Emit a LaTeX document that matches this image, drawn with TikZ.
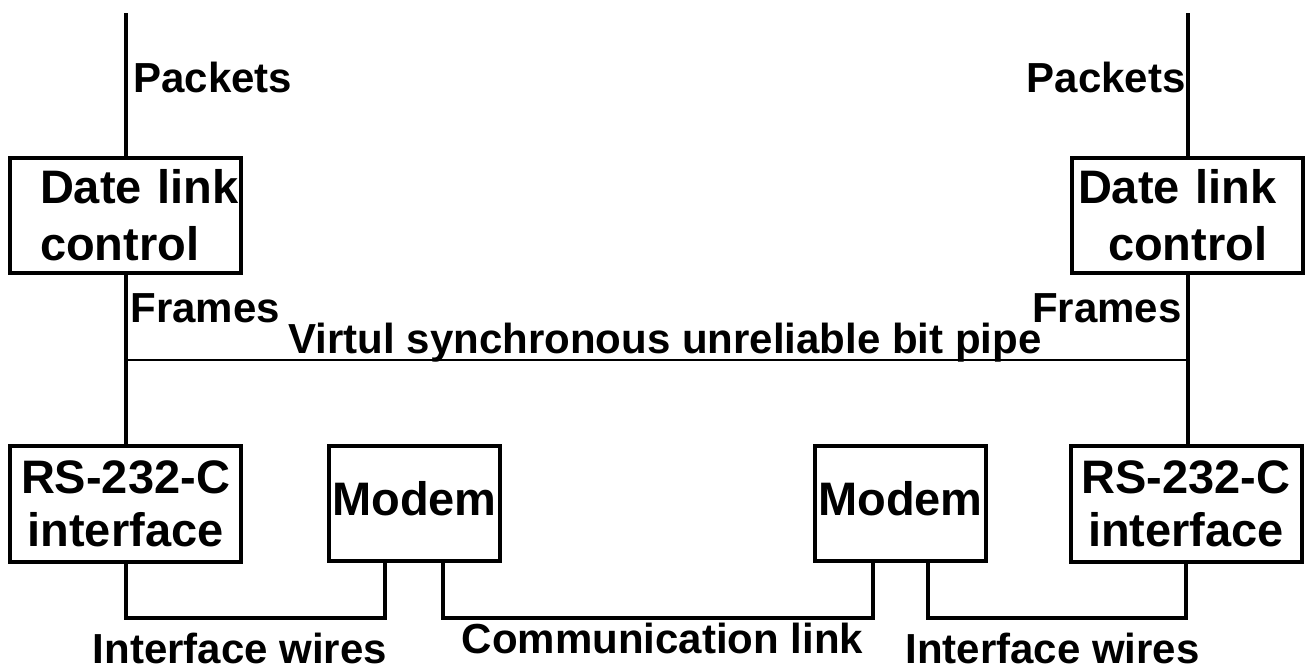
\documentclass[tikz,border=0pt]{standalone}
\usepackage{fontspec}
\setmainfont{Liberation Sans}
\begin{document}
\begin{tikzpicture}[x=0.5pt,y=-0.5pt,
  box/.style={draw,line width=2pt,inner sep=0pt,minimum width=115.5pt,minimum height=57.5pt,
    font=\fontsize{23.5pt}{28.5pt}\selectfont\bfseries},
  lab/.style={inner sep=0pt,font=\fontsize{21pt}{25pt}\selectfont\bfseries},
  wire/.style={line width=2pt}]
\useasboundingbox (0,0) rectangle (1309,669);
\node[box,text width=85.5pt,inner xsep=15pt,align=left] (dlcL) at (125.5,215.5) {Date~link\\control};
\node[box,text width=109.5pt,inner xsep=3pt,align=left] (dlcR) at (1187.5,215.5) {Date~link\\\hspace*{15pt}control};
\node[box,minimum height=58pt,align=center,font=\fontsize{23.5pt}{26.5pt}\selectfont\bfseries] (rsL) at (125.5,504) {RS-232-C\\interface};
\node[box,minimum height=58pt,align=center,font=\fontsize{23.5pt}{26.5pt}\selectfont\bfseries] (rsR) at (1186,504) {RS-232-C\\interface};
\node[box,minimum width=85.5pt,text depth=5pt] (mdL) at (414.5,503.5) {Modem};
\node[box,minimum width=85.5pt,text depth=5pt] (mdR) at (900.5,503.5) {Modem};
\coordinate (top) at (0,13);
\coordinate (pipe) at (0,360);
\coordinate (bot) at (0,618);
\coordinate (mdLa) at ([xshift=-14.75pt]mdL.south);
\coordinate (mdLb) at ([xshift=14.25pt]mdL.south);
\coordinate (mdRa) at ([xshift=-13.75pt]mdR.south);
\coordinate (mdRb) at ([xshift=13.75pt]mdR.south);
\draw[wire] (dlcL.north) -- (dlcL.north |- top);
\draw[wire] (dlcR.north) -- (dlcR.north |- top);
\draw[wire] (dlcL.south) -- (dlcL.south |- rsL.north);
\draw[wire] (dlcR.south) -- (dlcR.south |- rsR.north);
\draw[line width=1.3pt] (dlcL.south |- pipe) -- (dlcR.south |- pipe);
\draw[wire] (rsL.south) |- (bot -| mdLa) -- (mdLa);
\draw[wire] (mdLb) |- (bot -| mdRa) -- (mdRa);
\draw[wire] (mdRb) |- (bot -| rsR.south) -- (rsR.south);
\node[lab,anchor=base west] (pktL) at (133,92) {Packets};
\node[lab,anchor=base east] (pktR) at (1186,92) {Packets};
\node[lab,anchor=base west] (frmL) at (130,322) {Frames};
\node[lab,anchor=base east] (frmR) at (1182,322) {Frames};
\node[lab,anchor=base] (pipeL) at (665,353) {Virtul synchronous unreliable bit pipe};
\node[lab,anchor=base] (ifwL) at (240,663) {Interface wires};
\node[lab,anchor=base] (comL) at (662.5,653) {Communication link};
\node[lab,anchor=base] (ifwR) at (1052.5,663) {Interface wires};
\end{tikzpicture}
\end{document}
